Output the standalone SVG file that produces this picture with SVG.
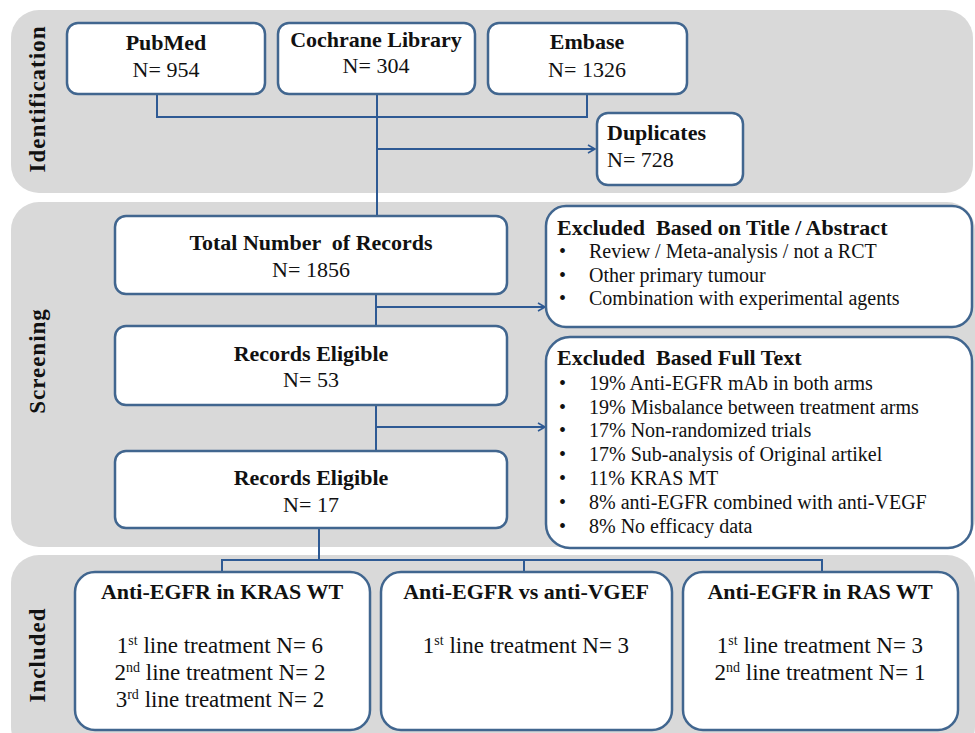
<svg xmlns="http://www.w3.org/2000/svg" width="975" height="733" viewBox="0 0 975 733">
<defs>
<marker id="arr" markerWidth="10" markerHeight="10" refX="8" refY="5" orient="auto" markerUnits="userSpaceOnUse">
<path d="M1,1 L8,5 L1,9" fill="none" stroke="#2e5a94" stroke-width="1.6"/>
</marker>
</defs>
<style>
.panel{fill:#d9d9d9;}
.box{fill:#ffffff;stroke:#41668f;stroke-width:2.5;}
.conn{fill:none;stroke:#2e5a94;stroke-width:2;}
text{font-family:"Liberation Serif","Times New Roman",serif;fill:#111;}
.b{font-weight:bold;}
.t23{font-size:23px;}
.t22{font-size:22px;}
.t20{font-size:20px;}
.bul{font-size:20px;}
.pre{white-space:pre;}
.sec{font-size:23px;font-weight:bold;letter-spacing:1px;}
.mid{text-anchor:middle;}
</style>
<rect width="975" height="733" fill="#ffffff"/>
<g id="panels">
<rect class="panel" x="11" y="10" width="962" height="183" rx="28"/>
<rect class="panel" x="11" y="202" width="964" height="345" rx="28"/>
<rect class="panel" x="11" y="555" width="964" height="200" rx="28"/>
<text class="sec mid" transform="translate(45,99) rotate(-90)">Identification</text>
<text class="sec mid" transform="translate(45,361) rotate(-90)">Screening</text>
<text class="sec mid" transform="translate(45,655) rotate(-90)">Included</text>
</g>
<g id="connectors">
<path class="conn" d="M157,94 V117 H587 V94"/>
<path class="conn" d="M377,94 V216"/>
<path class="conn" d="M377,149 H595" marker-end="url(#arr)"/>
<path class="conn" d="M376,294 V326"/>
<path class="conn" d="M376,307 H545" marker-end="url(#arr)"/>
<path class="conn" d="M376,405 V451"/>
<path class="conn" d="M376,427 H545" marker-end="url(#arr)"/>
<path class="conn" d="M319,528 V560"/>
<path class="conn" d="M222,572 V560 H822 V572"/>
<path class="conn" d="M524,560 V572"/>
</g>
<g id="pubmed">
<rect class="box" x="67" y="23" width="198" height="71" rx="11"/>
<text class="b t22 mid" x="166" y="50">PubMed</text>
<text class="t22 mid" x="166" y="77">N= 954</text>
</g>
<g id="cochrane">
<rect class="box" x="278" y="23" width="197" height="71" rx="11"/>
<text class="b t22 mid" x="376" y="47">Cochrane Library</text>
<text class="t22 mid" x="376" y="73">N= 304</text>
</g>
<g id="embase">
<rect class="box" x="488" y="23" width="199" height="71" rx="11"/>
<text class="b t22 mid" x="587" y="49">Embase</text>
<text class="t22 mid" x="587" y="77">N= 1326</text>
</g>
<g id="duplicates">
<rect class="box" x="597" y="113" width="146" height="72" rx="11"/>
<text class="b t22" x="607" y="140">Duplicates</text>
<text class="t22" x="607" y="167">N= 728</text>
</g>
<g id="total">
<rect class="box" x="115" y="216" width="392" height="78" rx="11"/>
<text class="b t22 mid pre" x="311" y="250">Total Number  of Records</text>
<text class="t22 mid" x="311" y="277">N= 1856</text>
</g>
<g id="eligible53">
<rect class="box" x="115" y="326" width="392" height="79" rx="11"/>
<text class="b t22 mid" x="311" y="361">Records Eligible</text>
<text class="t22 mid" x="311" y="387">N= 53</text>
</g>
<g id="eligible17">
<rect class="box" x="115" y="451" width="392" height="77" rx="11"/>
<text class="b t22 mid" x="311" y="485">Records Eligible</text>
<text class="t22 mid" x="311" y="512">N= 17</text>
</g>
<g id="excluded-title">
<rect class="box" x="546" y="206" width="426" height="121" rx="20"/>
<text class="b t22 pre" x="557" y="235">Excluded  Based on Title / Abstract</text>
<text class="bul" x="559" y="258">•</text><text class="t20" x="589" y="258">Review / Meta-analysis / not a RCT</text>
<text class="bul" x="559" y="282">•</text><text class="t20" x="589" y="282">Other primary tumour</text>
<text class="bul" x="559" y="305">•</text><text class="t20" x="589" y="305">Combination with experimental agents</text>
</g>
<g id="excluded-full">
<rect class="box" x="546" y="337" width="426" height="211" rx="24"/>
<text class="b t22 pre" x="557" y="365">Excluded  Based Full Text</text>
<text class="bul" x="559" y="390">•</text><text class="t20" x="589" y="390">19% Anti-EGFR mAb in both arms</text>
<text class="bul" x="559" y="414">•</text><text class="t20" x="589" y="414">19% Misbalance between treatment arms</text>
<text class="bul" x="559" y="437">•</text><text class="t20" x="589" y="437">17% Non-randomized trials</text>
<text class="bul" x="559" y="461">•</text><text class="t20" x="589" y="461">17% Sub-analysis of Original artikel</text>
<text class="bul" x="559" y="485">•</text><text class="t20" x="589" y="485">11% KRAS MT</text>
<text class="bul" x="559" y="509">•</text><text class="t20" x="589" y="509">8% anti-EGFR combined with anti-VEGF</text>
<text class="bul" x="559" y="533">•</text><text class="t20" x="589" y="533">8% No efficacy data</text>
</g>
<g id="kras-wt">
<rect class="box" x="75" y="572" width="295" height="158" rx="20"/>
<text class="b t22 mid" x="222" y="599">Anti-EGFR in KRAS WT</text>
<text class="t23 mid" x="220" y="653">1<tspan font-size="14" dy="-8">st</tspan><tspan dy="8"> line treatment N= 6</tspan></text>
<text class="t23 mid" x="220" y="680">2<tspan font-size="14" dy="-8">nd</tspan><tspan dy="8"> line treatment N= 2</tspan></text>
<text class="t23 mid" x="220" y="707">3<tspan font-size="14" dy="-8">rd</tspan><tspan dy="8"> line treatment N= 2</tspan></text>
</g>
<g id="egfr-vs-vegf">
<rect class="box" x="381" y="572" width="291" height="158" rx="20"/>
<text class="b t22 mid" x="526" y="599">Anti-EGFR vs anti-VGEF</text>
<text class="t23 mid" x="526" y="653">1<tspan font-size="14" dy="-8">st</tspan><tspan dy="8"> line treatment N= 3</tspan></text>
</g>
<g id="ras-wt">
<rect class="box" x="683" y="572" width="275" height="158" rx="20"/>
<text class="b t22 mid" x="820" y="599">Anti-EGFR in RAS WT</text>
<text class="t23 mid" x="820" y="653">1<tspan font-size="14" dy="-8">st</tspan><tspan dy="8"> line treatment N= 3</tspan></text>
<text class="t23 mid" x="820" y="680">2<tspan font-size="14" dy="-8">nd</tspan><tspan dy="8"> line treatment N= 1</tspan></text>
</g>
</svg>
